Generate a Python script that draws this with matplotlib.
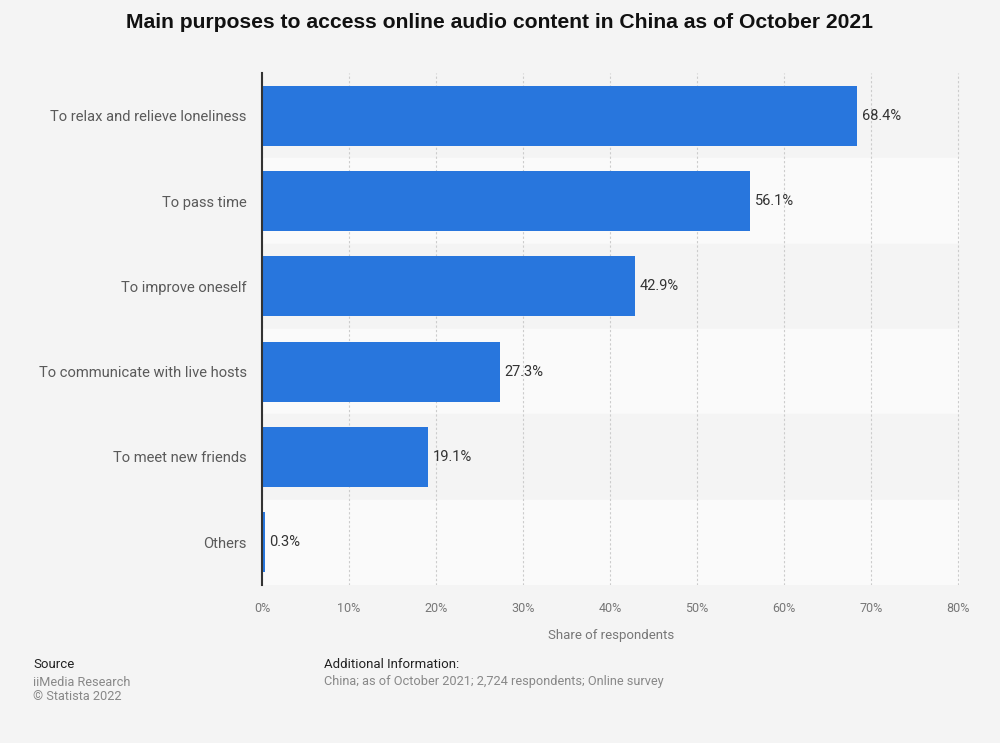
import matplotlib.pyplot as plt
import numpy as np

plt.rcParams["font.family"] = ["Roboto", "DejaVu Sans"]

categories = ["To relax and relieve loneliness", "To pass time", "To improve oneself",
              "To communicate with live hosts", "To meet new friends", "Others"]
values = [68.4, 56.1, 42.9, 27.3, 19.1, 0.3]
xticks = [0, 10, 20, 30, 40, 50, 60, 70, 80]

fig = plt.figure(figsize=(10, 7.43), dpi=100, facecolor="#f4f4f4")
ax = fig.add_axes([0.262, 0.2127, 0.698, 0.689])
ax.set_facecolor("#f4f4f4")

y = np.arange(len(categories))
# alternating row bands
for i in y:
    ax.axhspan(i - 0.5, i + 0.5, color="#f4f4f4" if i % 2 == 0 else "#fafafa", zorder=0)

ax.barh(y, values, height=0.7, color="#2876dd", zorder=3)
for yi, v in zip(y, values):
    ax.text(v + 0.5, yi, f"{v}%", va="center", ha="left", fontsize=10.5, color="#333333", zorder=4)

ax.set_xlim(0, 80.2)
ax.set_ylim(len(categories) - 0.5, -0.5)
ax.set_yticks(y)
ax.set_yticklabels(categories, fontsize=10.6, color="#5a5a5a")
ax.set_xticks(xticks)
ax.set_xticklabels([f"{t}%" for t in xticks], fontsize=9, color="#777777")
ax.tick_params(axis="both", length=0)
ax.tick_params(axis="y", pad=11)
ax.tick_params(axis="x", pad=12)
ax.grid(axis="x", color="#cccccc", linestyle=(0, (2, 2)), linewidth=0.8, zorder=1)
for s in ["top", "right", "bottom"]:
    ax.spines[s].set_visible(False)
ax.spines["left"].set_color("#333333")
ax.spines["left"].set_linewidth(1.5)
ax.spines["left"].set_zorder(5)
ax.set_xlabel("Share of respondents", fontsize=9.5, color="#777777", labelpad=10)

fig.text(0.5, 1 - 22 / 743, "Main purposes to access online audio content in China as of October 2021",
         ha="center", va="center", fontsize=15.2, fontweight="bold", color="#111111",
         family=["Liberation Sans", "DejaVu Sans"])

fig.text(0.033, 1 - 665 / 743, "Source", fontsize=9.5, color="#222222", va="center")
fig.text(0.033, 1 - 682 / 743, "iiMedia Research", fontsize=9.2, color="#888888", va="center")
fig.text(0.033, 1 - 697 / 743, "© Statista 2022", fontsize=9.2, color="#888888", va="center")
fig.text(0.324, 1 - 665 / 743, "Additional Information:", fontsize=9.5, color="#222222", va="center")
fig.text(0.324, 1 - 682 / 743, "China; as of October 2021; 2,724 respondents; Online survey",
         fontsize=9.2, color="#888888", va="center")

fig.savefig("out.png", dpi=100, facecolor=fig.get_facecolor())
